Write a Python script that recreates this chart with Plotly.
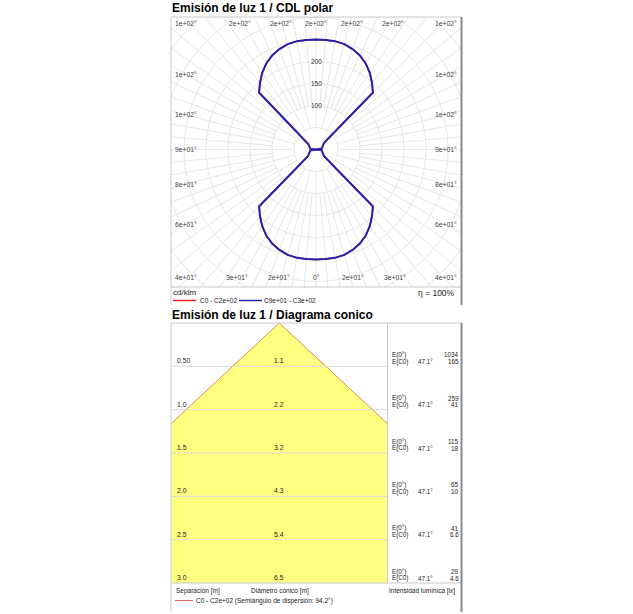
import numpy as np
import plotly.graph_objects as go

# ---------------- data ----------------
# polar luminous intensity distribution (cd/klm), gamma from 0 (down) to 180 (up)
gamma_deg = list(range(0, 181, 5))
i_c0_c180 = [250, 250, 250, 248, 243, 236, 226, 213, 198, 183, 24, 21, 19, 17, 15, 14, 13, 12.5, 0,
             12.5, 13, 14, 15, 17, 19, 21, 24, 183, 198, 213, 226, 236, 243, 248, 250, 250, 250]
i_c90_c270 = [250, 250, 250, 248, 243, 236, 226, 213, 198, 183, 24, 21, 19, 17, 15, 14, 13, 12.5, 0,
              12.5, 13, 14, 15, 17, 19, 21, 24, 183, 198, 213, 226, 236, 243, 248, 250, 250, 250]
grid_radii = [50, 100, 150, 200, 250, 300, 350, 400, 450, 500]
radius_labels = [100, 150, 200]
angle_labels_deg = [0, 15, 30, 45, 60, 75, 90, 105, 120, 135, 150, 165, 180]
eta_text = "η = 100%"

# cone diagram
distances_m = [0.5, 1.0, 1.5, 2.0, 2.5, 3.0]
distance_labels = ["0.50", "1.0", "1.5", "2.0", "2.5", "3.0"]
diameters_m = [1.1, 2.2, 3.2, 4.3, 5.4, 6.5]
e_nadir_lx = [1034, 259, 115, 65, 41, 29]
e_c0_lx = [165, 41, 18, 10, 6.6, 4.6]
half_angle_deg = 47.1
spread_angle_deg = 94.2

# ---------------- layout helpers ----------------
W, H = 633, 614
FONT = "Liberation Sans, Arial, sans-serif"
def PX(x): return x / W
def PY(y): return 1 - y / H

# polar frame (pixels, screen coords)
P_L, P_R, P_T, P_B = 171, 462, 17, 287
CX, CY = 316, 149.5
SC = 0.44  # px per cd/klm
x_range = [(P_L - CX) / SC, (P_R - CX) / SC]
y_range = [-(P_B - CY) / SC, (CY - P_T) / SC]

# cone frame (pixels)
C_L, C_R, C_T, C_B = 171, 387.5, 323, 583

GRID = "#e6e6e6"
LIGHT = "#c9c9c9"
DARK = "#8a8a8a"
BLUE = "#2424aa"
RED = "#e2232a"

fig = go.Figure()

# ----- polar grid -----
th = np.linspace(0, 2 * np.pi, 361)
gx, gy = [], []
for r in grid_radii:
    gx += list(r * np.cos(th)) + [None]
    gy += list(r * np.sin(th)) + [None]
for a in range(0, 360, 5):
    r0 = 50 if a % 15 == 0 else 100
    ar = np.radians(a)
    gx += [r0 * np.sin(ar), 600 * np.sin(ar), None]
    gy += [r0 * np.cos(ar), 600 * np.cos(ar), None]
fig.add_trace(go.Scatter(x=gx, y=gy, mode="lines", line=dict(color=GRID, width=1),
                         hoverinfo="skip", showlegend=False, xaxis="x", yaxis="y"))

g = np.radians(gamma_deg)
def plane_pair(vals):
    v = np.array(vals, float)
    xr = v * np.sin(g)
    yr = -v * np.cos(g)
    return np.concatenate([xr, -xr[::-1]]), np.concatenate([yr, yr[::-1]])

x0c, y0c = plane_pair(i_c0_c180)
fig.add_trace(go.Scatter(x=x0c, y=y0c, mode="lines", line=dict(color=RED, width=1.5),
                         showlegend=False, xaxis="x", yaxis="y"))
x9c, y9c = plane_pair(i_c90_c270)
fig.add_trace(go.Scatter(x=x9c, y=y9c, mode="lines", line=dict(color=BLUE, width=2),
                         showlegend=False, xaxis="x", yaxis="y"))

annotations = []
def txt(text, x, y, size=6.5, xanchor="left", yanchor="middle", xref="paper", yref="paper",
        bold=False, color="#222", yshift=0, xshift=0):
    annotations.append(dict(text=("<b>%s</b>" % text) if bold else text, x=x, y=y, xref=xref, yref=yref,
                            xanchor=xanchor, yanchor=yanchor, showarrow=False, yshift=yshift, xshift=xshift,
                            font=dict(family=FONT, size=size, color=color), borderpad=0))

# radius labels
for r in radius_labels:
    txt(str(r), 0, r, size=6.5, xanchor="center", xref="x", yref="y", color="#333")

# angle labels around the frame
IN_L, IN_R, IN_T, IN_B = 186, 446, 23, 277
def angle_label_pos(gd, side):
    s = np.sin(np.radians(gd)) * side
    c = np.cos(np.radians(gd))  # screen-down component
    t_side = (P_R - CX) / abs(s) if abs(s) > 1e-9 else 1e9
    t_vert = ((P_B - CY) / c) if c > 1e-9 else (((CY - P_T) / -c) if c < -1e-9 else 1e9)
    if t_vert < t_side:
        px = min(max(CX + t_vert * s, IN_L), IN_R)
        py = IN_B if c > 0 else IN_T
    else:
        xin = IN_R if s > 0 else IN_L
        t = (xin - CX) / s
        px = xin
        py = min(max(CY + t * c, IN_T), IN_B)
    return px, py

for a in angle_labels_deg:
    lab = "0°" if a == 0 else "%s°" % format(float(a), ".0e")
    sides = [1] if a in (0, 180) else [1, -1]
    for sd in sides:
        px, py = angle_label_pos(a, sd)
        txt(lab, (px - CX) / SC, (CY - py) / SC, size=6.8, xanchor="center", xref="x", yref="y", color="#444")

# ----- cone diagram -----
tan_h = np.tan(np.radians(half_angle_deg))
dmax = distances_m[-1]
fig.add_trace(go.Scatter(x=[0, -dmax * tan_h, dmax * tan_h, 0], y=[0, dmax, dmax, 0], mode="lines",
                         fill="toself", fillcolor="#ffff80", line=dict(width=0),
                         hoverinfo="skip", showlegend=False, xaxis="x2", yaxis="y2"))
fig.add_trace(go.Scatter(x=[-dmax * tan_h, 0, dmax * tan_h], y=[dmax, 0, dmax], mode="lines",
                         line=dict(color="#e58a5a", width=1),
                         hoverinfo="skip", showlegend=False, xaxis="x2", yaxis="y2"))

shapes = []
def hline(y, x0, x1, color=LIGHT, width=1):
    shapes.append(dict(type="line", xref="paper", yref="paper", x0=PX(x0), x1=PX(x1), y0=PY(y), y1=PY(y),
                       line=dict(color=color, width=width), layer="above"))
def vline(x, y0, y1, color=LIGHT, width=1):
    shapes.append(dict(type="line", xref="paper", yref="paper", x0=PX(x), x1=PX(x), y0=PY(y0), y1=PY(y1),
                       line=dict(color=color, width=width), layer="above"))

for d in distances_m[:-1]:
    shapes.append(dict(type="line", xref="x2 domain", yref="y2", x0=0, x1=1, y0=d, y1=d,
                       line=dict(color="#dadada", width=1), layer="above"))

for d, dl, dia, e0, ec in zip(distances_m, distance_labels, diameters_m, e_nadir_lx, e_c0_lx):
    txt(dl, 0.022, d, size=6.8, xref="x2 domain", yref="y2", yanchor="bottom", yshift=1)
    txt("%.1f" % dia, 0, d, size=6.8, xanchor="center", xref="x2", yref="y2", yanchor="bottom", yshift=1)
    txt("E(0°)", PX(391), d, size=6.3, yref="y2", yshift=11.5)
    txt("E(C0)", PX(391), d, size=6.3, yref="y2", yshift=4.8)
    txt("%.1f°" % half_angle_deg, PX(417), d, size=6.3, yref="y2", yshift=4.8)
    txt("%g" % e0, PX(460), d, size=6.3, xanchor="right", yref="y2", yshift=11.5)
    txt("%g" % ec, PX(460), d, size=6.3, xanchor="right", yref="y2", yshift=4.8)

# ----- frames -----
hline(P_T, P_L, 462)
vline(P_L, P_T, 305)
hline(P_B, P_L, 462)
vline(461.5, P_T, 305, color=DARK, width=2)
hline(C_T, C_L, 462)
vline(C_L, C_T, 612)
vline(C_R, C_T, C_B)
hline(C_B, C_L, 462)
vline(461.5, C_T, 612, color=DARK, width=2)

# ----- titles / legends -----
txt("Emisión de luz 1 / CDL polar", PX(171), PY(7.5), size=12, bold=True, color="#000")
txt("Emisión de luz 1 / Diagrama conico", PX(171), PY(315), size=12, bold=True, color="#000")

txt("cd/klm", PX(172), PY(292.5), size=8)
txt(eta_text, PX(456), PY(292.5), size=8.5, xanchor="right")
hline(300.5, 173, 196, color=RED, width=1.5)
txt("C0 - C2e+02", PX(199), PY(300.5), size=6.5)
hline(300.5, 239, 262, color=BLUE, width=1.5)
txt("C9e+01 - C3e+02", PX(263), PY(300.5), size=6.5)

txt("Separación [m]", PX(175), PY(591), size=6.5)
txt("Diámetro cónico [m]", PX(250), PY(591), size=6.5)
txt("Intensidad lumínica [lx]", PX(388), PY(591), size=6.5)
hline(600.5, 175, 193, color="#e06a6a", width=1)
txt("C0 - C2e+02 (Semiángulo de dispersión: %.1f°)" % spread_angle_deg, PX(195), PY(601), size=6.5)

ax_common = dict(visible=False, showgrid=False, zeroline=False, fixedrange=True)
fig.update_layout(
    width=W, height=H, margin=dict(l=0, r=0, t=0, b=0),
    paper_bgcolor="white", plot_bgcolor="white", showlegend=False,
    xaxis=dict(domain=[PX(P_L), PX(P_R)], range=x_range, anchor="y", **ax_common),
    yaxis=dict(domain=[PY(P_B), PY(P_T)], range=y_range, anchor="x", **ax_common),
    xaxis2=dict(domain=[PX(C_L), PX(C_R)], range=[-1.25, 1.25], anchor="y2", **ax_common),
    yaxis2=dict(domain=[PY(C_B), PY(C_T)], range=[3, 0], anchor="x2", **ax_common),
    annotations=annotations, shapes=shapes,
)
fig.write_html("out.html", config={"displayModeBar": False, "staticPlot": True},
               post_script="document.body.style.margin='0px'; document.body.style.overflow='hidden';")
